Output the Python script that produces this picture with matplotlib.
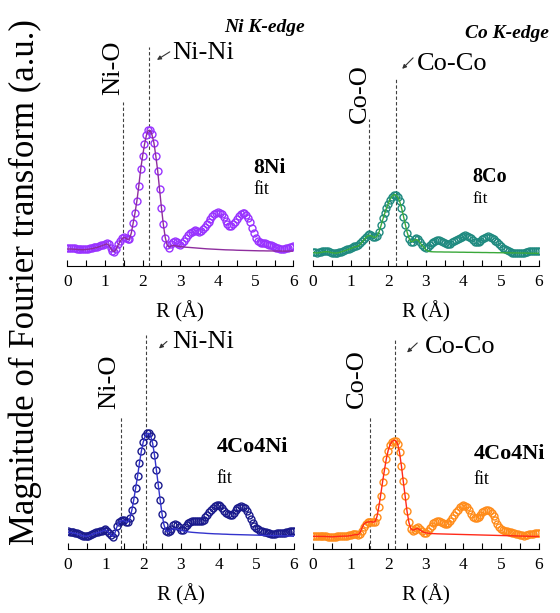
import matplotlib
matplotlib.use("Agg")
import matplotlib.pyplot as plt
import numpy as np

plt.rcParams['font.family'] = ['Liberation Serif', 'DejaVu Serif']

# R grid (Å) of the measured points, 0.05 step
R = np.round(np.linspace(0, 6, 121), 2)
# R grid of the fit curves, finer around the main peak
R_fit = np.round(np.r_[np.linspace(0, 0.9, 10), np.linspace(1.0, 3.15, 44), np.linspace(3.2, 6.0, 29)], 2)

# 8Ni, Ni K-edge
ni8_data = [0.18,0.18,0.18,0.178,0.177,0.175,0.173,0.17,0.167,0.167,
            0.17,0.173,0.177,0.182,0.187,0.19,0.193,0.2,0.207,0.215,
            0.223,0.233,0.217,0.183,0.15,0.14,0.173,0.217,0.25,0.277,
            0.29,0.283,0.267,0.273,0.333,0.433,0.533,0.65,0.8,0.967,
            1.1,1.217,1.307,1.36,1.36,1.317,1.233,1.1,0.95,0.767,
            0.583,0.417,0.283,0.207,0.183,0.217,0.24,0.25,0.24,0.217,
            0.207,0.227,0.25,0.283,
            0.31,0.327,0.34,0.35,0.357,0.35,0.34,0.35,0.367,0.39,
            0.417,0.445,0.473,0.497,0.517,0.532,0.54,0.533,0.517,0.487,
            0.45,0.42,0.4,0.4,0.417,0.443,0.473,0.497,0.517,0.525,
            0.527,0.51,0.483,0.44,0.383,0.33,0.283,0.255,0.24,0.235,
            0.233,0.228,0.223,0.215,0.207,0.2,0.193,0.185,0.177,0.173,
            0.173,0.175,0.18,0.183,0.187,0.193,0.2]
ni8_fit = [0.17,0.17,0.168,0.165,0.163,0.165,0.17,0.178,0.187,0.2,
           0.215,0.222,0.21,0.18,0.152,0.145,0.17,0.21,0.245,0.27,
           0.285,0.28,0.265,0.27,0.33,0.43,0.535,0.655,0.805,0.97,
           1.1,1.215,1.305,1.355,1.355,1.31,1.23,1.1,0.95,0.765,
           0.58,0.415,0.285,0.21,0.19,0.2,0.205,0.205,0.2,0.197,
           0.195,0.193,0.19,0.188,
           0.187,0.184,0.181,0.178,0.175,0.172,0.17,0.168,0.166,0.164,
           0.162,0.161,0.16,0.158,0.157,0.156,0.155,0.154,0.153,0.152,
           0.152,0.151,0.151,0.15,0.15,0.15,0.149,0.149,0.149]

# 8Co, Co K-edge
co8_data = [0.143,0.138,0.133,0.137,0.143,0.148,0.153,0.152,0.15,0.142,
            0.133,0.128,0.127,0.13,0.137,0.145,0.153,0.16,0.167,0.175,
            0.183,0.193,0.2,0.2,0.21,0.227,0.25,0.27,0.293,0.31,
            0.317,0.31,0.293,0.287,0.303,0.343,0.41,0.477,0.527,0.577,
            0.62,0.66,0.69,0.707,0.71,0.69,0.65,0.577,0.493,0.41,
            0.327,0.267,0.237,0.243,0.267,0.277,0.267,0.237,0.21,0.193,
            0.183,0.193,0.21,0.227,
            0.243,0.253,0.26,0.257,0.25,0.238,0.227,0.22,0.217,0.225,
            0.237,0.248,0.26,0.272,0.283,0.295,0.303,0.306,0.303,0.292,
            0.277,0.26,0.243,0.237,0.237,0.25,0.267,0.282,0.293,0.296,
            0.293,0.283,0.27,0.253,0.237,0.218,0.2,0.182,0.167,0.157,
            0.15,0.14,0.133,0.13,0.127,0.126,0.127,0.13,0.133,0.138,
            0.143,0.147,0.15,0.152,0.153,0.152,0.15]
co8_fit = [0.135,0.13,0.135,0.143,0.143,0.133,0.128,0.135,0.148,0.16,
           0.175,0.183,0.19,0.193,0.2,0.215,0.237,0.26,0.283,0.3,
           0.307,0.302,0.29,0.285,0.3,0.335,0.395,0.46,0.52,0.575,
           0.625,0.668,0.698,0.713,0.71,0.69,0.65,0.585,0.505,0.42,
           0.34,0.28,0.245,0.245,0.26,0.265,0.255,0.23,0.205,0.19,
           0.16,0.15,0.145,0.143,
           0.142,0.141,0.141,0.14,0.14,0.139,0.139,0.138,0.138,0.137,
           0.137,0.136,0.136,0.135,0.135,0.134,0.134,0.133,0.133,0.132,
           0.132,0.131,0.131,0.13,0.13,0.129,0.128,0.128,0.127]

# 4Co4Ni, Ni K-edge
cn_ni_data = [0.173,0.17,0.167,0.162,0.157,0.152,0.147,0.138,0.13,0.125,
              0.123,0.13,0.14,0.148,0.157,0.162,0.167,0.173,0.18,0.19,
              0.197,0.18,0.157,0.133,0.117,0.157,0.223,0.263,0.28,0.29,
              0.283,0.267,0.267,0.307,0.39,0.49,0.607,0.723,0.857,0.973,
              1.067,1.123,1.153,1.157,1.13,1.057,0.94,0.79,0.64,0.49,
              0.347,0.24,0.18,0.167,0.18,0.2,0.24,0.247,0.233,0.213,
              0.19,0.19,0.213,0.24,
              0.257,0.265,0.273,0.275,0.273,0.272,0.273,0.278,0.29,0.313,
              0.34,0.365,0.39,0.41,0.423,0.435,0.44,0.427,0.407,0.38,
              0.357,0.342,0.333,0.34,0.357,0.383,0.407,0.418,0.423,0.418,
              0.407,0.378,0.34,0.297,0.257,0.228,0.207,0.192,0.18,0.172,
              0.167,0.162,0.157,0.152,0.147,0.146,0.147,0.152,0.157,0.157,
              0.157,0.16,0.163,0.168,0.173,0.177,0.18]
cn_ni_fit = [0.165,0.16,0.152,0.142,0.128,0.123,0.135,0.15,0.16,0.172,
             0.188,0.175,0.155,0.135,0.122,0.155,0.215,0.255,0.272,0.282,
             0.278,0.265,0.268,0.305,0.385,0.487,0.605,0.72,0.853,0.97,
             1.063,1.12,1.15,1.153,1.127,1.053,0.937,0.787,0.637,0.487,
             0.345,0.24,0.182,0.17,0.18,0.19,0.2,0.2,0.195,0.19,
             0.183,0.178,0.174,0.17,
             0.167,0.163,0.16,0.157,0.155,0.152,0.15,0.148,0.147,0.145,
             0.144,0.142,0.141,0.14,0.139,0.138,0.137,0.136,0.135,0.134,
             0.133,0.132,0.131,0.13,0.129,0.128,0.127,0.125,0.123]

# 4Co4Ni, Co K-edge
cn_co_data = [0.13,0.128,0.127,0.125,0.123,0.125,0.127,0.123,0.12,0.118,
              0.117,0.118,0.12,0.123,0.127,0.128,0.13,0.128,0.127,0.132,
              0.137,0.143,0.147,0.147,0.137,0.147,0.18,0.213,0.247,0.263,
              0.27,0.27,0.263,0.263,0.313,0.413,0.53,0.663,0.78,0.897,
              0.98,1.037,1.07,1.08,1.08,1.047,0.963,0.83,0.68,0.53,
              0.38,0.263,0.197,0.18,0.19,0.203,0.213,0.197,0.173,0.157,
              0.157,0.173,0.203,0.23,
              0.257,0.27,0.28,0.277,0.27,0.258,0.247,0.248,0.257,0.278,
              0.303,0.333,0.363,0.39,0.413,0.43,0.437,0.43,0.413,0.382,
              0.347,0.32,0.303,0.302,0.313,0.338,0.363,0.38,0.39,0.388,
              0.38,0.358,0.33,0.29,0.247,0.218,0.197,0.187,0.18,0.175,
              0.17,0.163,0.157,0.152,0.147,0.142,0.137,0.133,0.13,0.133,
              0.137,0.142,0.147,0.15,0.153,0.155,0.157]
cn_co_fit = [0.123,0.123,0.122,0.122,0.12,0.118,0.12,0.123,0.125,0.125,
             0.13,0.135,0.138,0.14,0.14,0.16,0.205,0.245,0.26,0.265,
             0.268,0.268,0.265,0.27,0.32,0.42,0.54,0.67,0.79,0.9,
             0.985,1.04,1.072,1.082,1.078,1.045,0.96,0.825,0.67,0.52,
             0.37,0.26,0.2,0.185,0.19,0.2,0.198,0.185,0.172,0.163,
             0.158,0.155,0.153,0.151,
             0.15,0.148,0.147,0.146,0.145,0.144,0.143,0.142,0.141,0.14,
             0.139,0.138,0.137,0.136,0.135,0.134,0.133,0.132,0.131,0.13,
             0.129,0.128,0.127,0.126,0.125,0.124,0.123,0.122,0.121]

fig = plt.figure(figsize=(5.6, 6.13), dpi=100)

ax_tl = fig.add_axes([0.120, 0.566, 0.404, 0.369])
ax_tr = fig.add_axes([0.559, 0.566, 0.403, 0.369])
ax_bl = fig.add_axes([0.121, 0.105, 0.404, 0.369])
ax_br = fig.add_axes([0.559, 0.105, 0.403, 0.369])


def panel(ax, y, yfit, mcol, lcol):
    ax.plot(R, y, 'o', mfc='none', mec=mcol, ms=5, mew=1.0, zorder=2)
    ax.plot(R_fit, yfit, '-', color=lcol, lw=1.0, zorder=3)
    ax.set_xlim(0, 6)
    ax.set_ylim(0, 2.26)
    for s in ['left', 'top', 'right']:
        ax.spines[s].set_visible(False)
    ax.spines['bottom'].set_linewidth(0.8)
    ax.set_yticks([])
    ax.set_xticks(range(7))
    ax.set_xticks(np.arange(0.5, 6, 1), minor=True)
    ax.tick_params(axis='x', which='both', direction='in', length=4, width=0.8, pad=6)
    ax.tick_params(axis='x', labelsize=12.5)
    ax.set_xlabel('R (Å)', fontsize=15, labelpad=8)
    ax.patch.set_alpha(0)


def marker_line(ax, x, top):
    ax.plot([x, x], [0, top], color='0.25', lw=0.8, dashes=(3, 2), zorder=1)


def small_arrow(ax, x0, y0, x1, y1):
    ax.annotate('', xy=(x1, y1), xytext=(x0, y0),
                arrowprops=dict(arrowstyle='-|>', color='0.2', lw=0.8,
                                mutation_scale=6, shrinkA=0, shrinkB=0))


panel(ax_tl, ni8_data, ni8_fit, '#9933ff', '#8e2d9e')
marker_line(ax_tl, 1.48, 1.64)
marker_line(ax_tl, 2.18, 2.19)
ax_tl.text(1.21, 1.98, 'Ni-O', rotation=90, fontsize=19, ha='center', va='center')
ax_tl.text(2.78, 2.13, 'Ni-Ni', fontsize=19, ha='left', va='center')
small_arrow(ax_tl, 2.72, 2.14, 2.38, 2.06)
ax_tl.text(4.93, 0.98, '8Ni', fontsize=15.5, fontweight='bold', ha='left', va='center')
ax_tl.text(4.93, 0.76, 'fit', fontsize=13, ha='left', va='center')

panel(ax_tr, co8_data, co8_fit, '#1f8a80', '#3aa83a')
marker_line(ax_tr, 1.5, 1.47)
marker_line(ax_tr, 2.2, 1.87)
ax_tr.text(1.25, 1.72, 'Co-O', rotation=90, fontsize=19, ha='center', va='center')
ax_tr.text(2.77, 2.02, 'Co-Co', fontsize=19, ha='left', va='center')
small_arrow(ax_tr, 2.66, 2.08, 2.37, 1.97)
ax_tr.text(4.23, 0.89, '8Co', fontsize=14.5, fontweight='bold', ha='left', va='center')
ax_tr.text(4.23, 0.67, 'fit', fontsize=12.5, ha='left', va='center')

panel(ax_bl, cn_ni_data, cn_ni_fit, '#1a1a8c', '#3333cc')
marker_line(ax_bl, 1.42, 1.32)
marker_line(ax_bl, 2.08, 2.13)
ax_bl.text(1.11, 1.665, 'Ni-O', rotation=90, fontsize=19, ha='center', va='center')
ax_bl.text(2.76, 2.065, 'Ni-Ni', fontsize=19, ha='left', va='center')
small_arrow(ax_bl, 2.63, 2.07, 2.42, 2.0)
ax_bl.text(3.95, 1.015, '4Co4Ni', fontsize=16, fontweight='bold', ha='left', va='center')
ax_bl.text(3.95, 0.705, 'fit', fontsize=13, ha='left', va='center')

panel(ax_br, cn_co_data, cn_co_fit, '#ff8c1a', '#ff2a1a')
marker_line(ax_br, 1.51, 1.33)
marker_line(ax_br, 2.18, 2.08)
ax_br.text(1.17, 1.695, 'Co-O', rotation=90, fontsize=19, ha='center', va='center')
ax_br.text(2.98, 2.015, 'Co-Co', fontsize=19, ha='left', va='center')
small_arrow(ax_br, 2.77, 2.055, 2.5, 1.96)
ax_br.text(4.26, 0.945, '4Co4Ni', fontsize=16, fontweight='bold', ha='left', va='center')
ax_br.text(4.26, 0.695, 'fit', fontsize=13, ha='left', va='center')

fig.text(264 / 560, 1 - 27 / 613, 'Ni K-edge', fontsize=14, fontweight='bold',
         fontstyle='italic', ha='center', va='center')
fig.text(507 / 560, 1 - 33 / 613, 'Co K-edge', fontsize=14, fontweight='bold',
         fontstyle='italic', ha='center', va='center')
fig.text(25 / 560, 1 - 282 / 613, 'Magnitude of Fourier transform (a.u.)',
         rotation=90, fontsize=25, ha='center', va='center')

fig.savefig('out.png', dpi=100, facecolor='white')
